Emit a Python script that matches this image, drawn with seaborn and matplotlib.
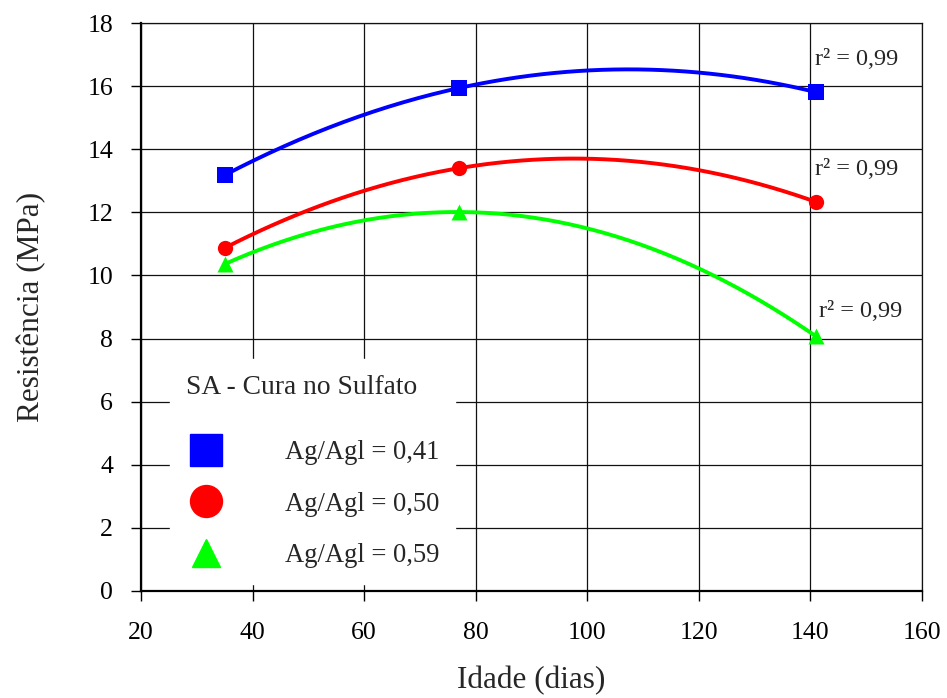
import numpy as np
import pandas as pd
import matplotlib
matplotlib.use("Agg")
import matplotlib.pyplot as plt
from matplotlib.lines import Line2D
import seaborn as sns

# Ages (days) and compressive strength (MPa) for each aggregate/binder ratio
dias = [35, 77, 141]
res_041 = [13.18, 15.94, 15.81]
res_050 = [10.87, 13.40, 12.33]
res_059 = [10.36, 12.01, 8.07]

series_labels = ["Ag/Agl = 0,41", "Ag/Agl = 0,50", "Ag/Agl = 0,59"]
series_colors = ["#0000FF", "#FF0000", "#00FF00"]
series_markers = ["s", "o", "^"]
r2_labels = ["r² = 0,99", "r² = 0,99", "r² = 0,99"]
r2_pos = [(140.8, 16.85), (140.8, 13.35), (141.5, 8.85)]

legend_title = "SA - Cura no Sulfato"
x_ticks = [20, 40, 60, 80, 100, 120, 140, 160]
y_ticks = [0, 2, 4, 6, 8, 10, 12, 14, 16, 18]

sns.set_theme(style="white")
plt.rcParams["font.family"] = ["Liberation Serif", "DejaVu Serif"]

fig = plt.figure(figsize=(9.47, 6.98), dpi=100)
ax = fig.add_axes([0.1489, 0.1533, 0.8247, 0.8137])

all_series = [res_041, res_050, res_059]
for vals, color, marker in zip(all_series, series_colors, series_markers):
    # second-order trend line through the measured points
    coef = np.polyfit(dias, vals, 2)
    xs = np.linspace(dias[0], dias[-1], 200)
    curve = pd.DataFrame({"x": xs, "y": np.polyval(coef, xs)})
    sns.lineplot(data=curve, x="x", y="y", color=color, linewidth=2.8,
                 ax=ax, zorder=3)
    pts = pd.DataFrame({"x": dias, "y": vals})
    size = 11.5 if marker != "o" else 11
    sns.scatterplot(data=pts, x="x", y="y", marker=marker, s=size ** 2,
                    color=color, edgecolor=color, linewidth=0, ax=ax,
                    zorder=4)

for txt, (tx, ty) in zip(r2_labels, r2_pos):
    ax.text(tx, ty, txt, fontsize=17.5, ha="left", va="center", zorder=5)

ax.set_xlim(20, 160)
ax.set_ylim(0, 18)
ax.set_xticks(x_ticks)
ax.set_yticks(y_ticks)
ax.grid(True, color="#111111", linewidth=0.9)
ax.set_axisbelow(True)

for side in ["left", "bottom"]:
    ax.spines[side].set_linewidth(1.6)
    ax.spines[side].set_color("black")
for side in ["right", "top"]:
    ax.spines[side].set_linewidth(0.9)
    ax.spines[side].set_color("#111111")

ax.tick_params(axis="both", direction="out", length=7, width=1.0,
               colors="black", labelsize=18.5)
ax.tick_params(axis="y", pad=13)
ax.tick_params(axis="x", pad=15)
ax.tick_params(left=True, bottom=True)

ax.set_xlabel("Idade (dias)", fontsize=22.5, labelpad=16)
ax.set_ylabel("Resistência (MPa)", fontsize=22.5, labelpad=30)

handles = [
    Line2D([], [], linestyle="none", marker=m, color=c, markeredgecolor=c,
           markersize=(23 if m != "^" else 20))
    for m, c in zip(series_markers, series_colors)
]
leg = ax.legend(handles, series_labels, title=legend_title,
                loc="upper left", bbox_to_anchor=(0.037, 0.409),
                frameon=True, facecolor="white", edgecolor="white",
                framealpha=1.0, fancybox=False, fontsize=19.2,
                title_fontsize=19.8, handlelength=1.5, handletextpad=2.2,
                labelspacing=1.0, borderpad=0.6, borderaxespad=0)
leg._legend_box.align = "left"
# extra room between the title and the first entry
leg._legend_box.sep = 29
leg.set_zorder(6)

fig.savefig("out.png", dpi=100)
